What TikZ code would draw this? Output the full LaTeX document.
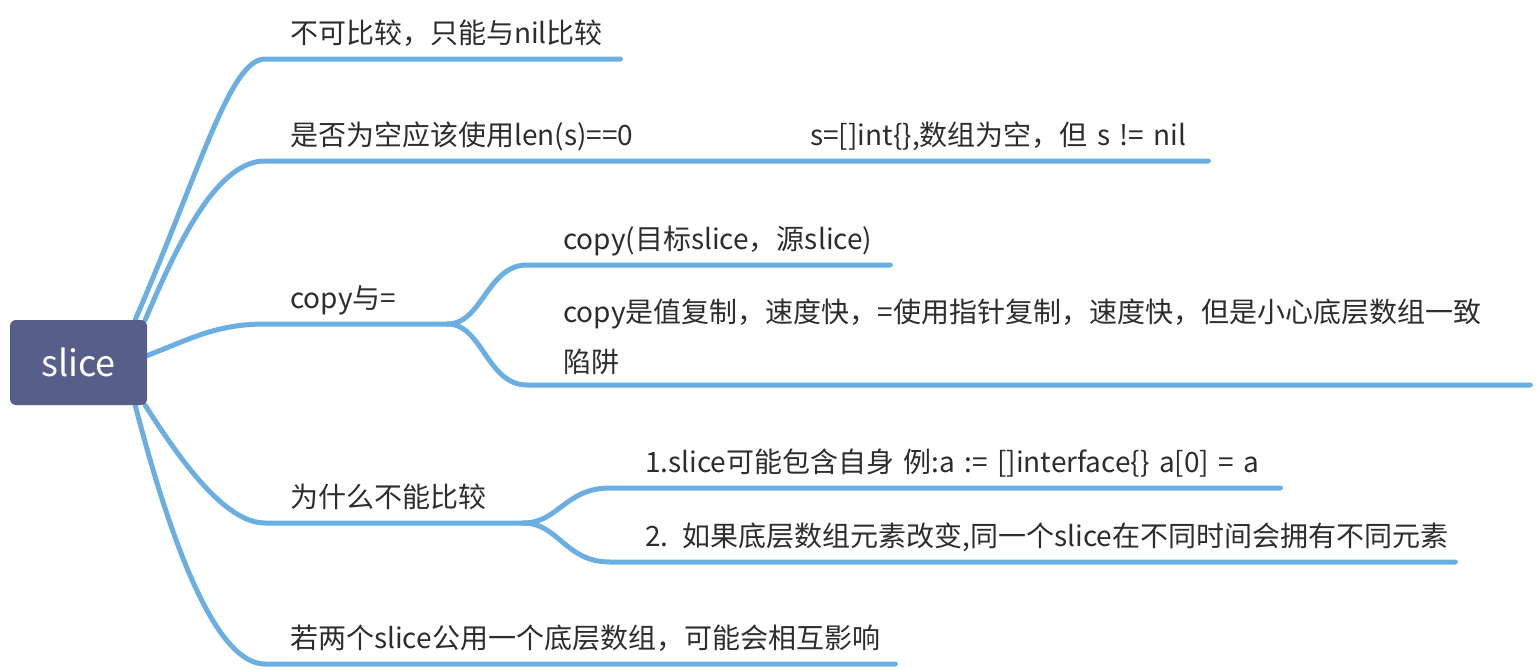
\documentclass[tikz,border=0pt]{standalone}
\usepackage{fontspec}
\setmainfont{Noto Sans CJK SC}
\usetikzlibrary{backgrounds}
\definecolor{rootfill}{RGB}{88,94,138}
\definecolor{branchline}{RGB}{106,174,226}
\definecolor{topictext}{RGB}{45,45,45}
\newcommand{\topicfont}{\fontsize{28}{50}\selectfont}
\tikzset{
  rootbox/.style ={fill=rootfill, rounded corners=6pt, minimum width=137pt, minimum height=85pt,
                   inner sep=0pt, text=white, font=\fontsize{36}{40}\selectfont},
  topic/.style   ={anchor=south west, text width=#1, align=left, inner xsep=0pt, inner ysep=10pt,
                   text depth=5pt, font=\topicfont, text=topictext},
  branch/.style  ={draw=branchline, line width=5pt, line cap=round, line join=round},
}

\begin{document}
\begin{tikzpicture}[x=1pt,y=-1pt]
  \useasboundingbox (0,0) rectangle (1538,670);
  % root and first level
  \node[rootbox] (root) at (78.5,362.5) {slice};
  \node[topic=355pt] (cmp) at (265,59) {\mbox{\hspace{25pt}不可比较，只能与nil比较}};
  \node[topic=943pt] (empty) at (265,161) {\mbox{\hspace{25pt}\makebox[520pt][l]{是否为空应该使用len(s)==0}s=[]int\{\},数组为空，但 s != nil}};
  \node[topic=182pt] (cpy) at (265,324) {\mbox{\hspace{25pt}copy与=}};
  \node[topic=258pt] (why) at (265,523) {\mbox{\hspace{25pt}为什么不能比较}};
  \node[topic=630pt] (share) at (265,664) {\mbox{\hspace{25pt}若两个slice公用一个底层数组，可能会相互影响}};
  % second level
  \node[topic=363pt] (cpyfn) at (527,265) {\mbox{\hspace{36pt}copy(目标slice，源slice)}};
  \node[topic=1003pt, text depth=52pt] (cpyval) at (527,385)
    {\mbox{\hspace{36pt}copy是值复制，速度快，=使用指针复制，速度快，但是小心底层数组一致}\\\mbox{\hspace{36pt}陷阱}};
  \node[topic=670pt] (self) at (610,488) {\mbox{\hspace{35pt}1.slice可能包含自身 例:a := []interface\{\} a[0] = a}};
  \node[topic=845pt] (change) at (610,562) {\mbox{\hspace{35pt}2. 如果底层数组元素改变,同一个slice在不同时间会拥有不同元素}};

  \begin{scope}[on background layer]
    \draw[branch] ([xshift=-12pt]root.north east) .. controls +(65,-150) and +(-35,0) .. (cmp.south west) -- (cmp.south east);
    \draw[branch] ([xshift=-2pt]root.north east) .. controls +(30,-70) and +(-50,0) .. (empty.south west) -- (empty.south east);
    \draw[branch] ([yshift=7pt]root.east) .. controls +(40,-15) and +(-50,0) .. (cpy.south west) -- (cpy.south east);
    \draw[branch] ([xshift=-2pt]root.south east) .. controls +(35,55) and +(-40,0) .. (why.south west) -- (why.south east);
    \draw[branch] ([xshift=-12pt]root.south east) .. controls +(35,135) and +(-50,0) .. (share.south west) -- (share.south east);
    % copy children
    \draw[branch] (cpy.south east) .. controls +(35,0) and +(-40,0) .. (cpyfn.south west) -- (cpyfn.south east);
    \draw[branch] (cpy.south east) .. controls +(35,0) and +(-40,0) .. (cpyval.south west) -- (cpyval.south east);
    % why children
    \draw[branch] (why.south east) .. controls +(35,0) and +(-45,0) .. (self.south west) -- (self.south east);
    \draw[branch] (why.south east) .. controls +(35,0) and +(-45,0) .. (change.south west) -- (change.south east);
  \end{scope}
\end{tikzpicture}
\end{document}
